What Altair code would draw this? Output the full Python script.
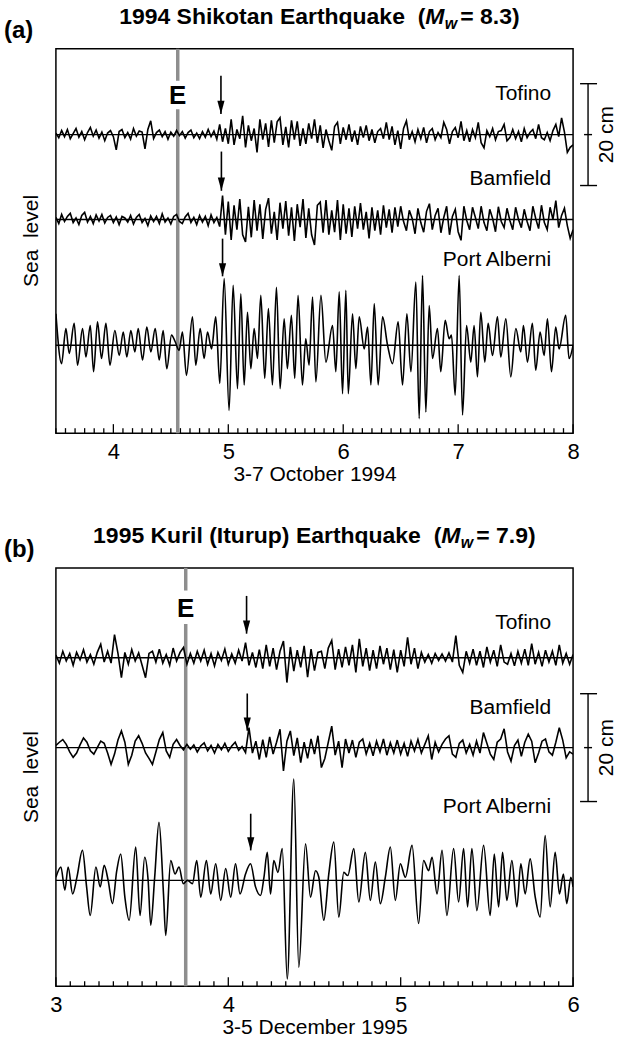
import altair as alt
import pandas as pd

FONT = "Liberation Sans"
W = 518

# ================= (a) 1994 Shikotan earthquake, 3-7 October 1994 (sea level, mm) =================
A_START, A_STEP = 3.5, 0.025
tofino_a = [
    3, -6, 8, -4, 10, -8, 2, 12, -5, 6, -10, 4, 14, -3, 9, -7, 5, -12, 3, 8,
    -4, -30, 6, 10, -6, 4, -9, 12, -3, 7, 5, -28, 10, 27, -8, 4, 9, -4, 6, -9,
    5, -3, 8, -2, 6, -7, 4, 9, -6, 3, -8, 6, -5, 10, -4, 7, -9, 20, -14, 12,
    -18, 30, -20, 10, -8, 37, -25, 18, -12, 12, -35, 30, -10, 22, -24, 28, -16, 25, 33, -20,
    15, -25, 28, -10, 26, -22, 12, -18, 22, -8, 30, -16, 18, -26, 10, -12, -31, 16, 24, -18,
    14, -10, 20, -14, 8, -20, 16, -6, 18, -12, 10, -16, 6, 12, -8, 24, -10, 16, -20, 8,
    -28, 12, 27, -10, 6, -14, 10, -8, 14, -16, 6, 12, -10, 4, -6, 24, 10, -18, 6, 14,
    -6, 26, -12, 8, -14, 10, -6, 24, -16, -26, 8, -4, 12, -10, 6, 8, 20, -12, -6, 10,
    -8, 6, -14, 12, -6, 4, 10, -8, 20, -6, -10, 4, -12, 8, 20, -4, 33, 5, -35, -25,
    -20,
]
bamfield_a = [
    4, -8, 10, -4, 6, 12, -6, 3, -10, 8, 14, -5, 6, -8, 9, -3, 10, -7, 4, 8,
    -6, 5, -10, 6, 3, -5, 8, -9, 4, 10, -6, 2, -12, 7, -4, 6, -8, 11, -5, 3,
    -9, 6, 10, -4, -8, 5, 12, -6, 4, -10, 8, -5, 6, -12, 9, -6, 4, -14, 47, -30,
    35, -40, 28, -20, 40, -30, -44, 25, -35, 38, -22, 30, -38, 20, 42, -28, 15, -40, 33, -18,
    36, -32, 24, -42, 30, -15, 40, -36, 22, -30, -50, 28, 34, -26, 38, -30, 18, -25, 38, -40,
    30, -28, 22, -34, 26, -18, 32, -20, 15, -37, 24, -22, 18, -30, 28, -16, 20, -26, 24, -14,
    26, -4, -22, 18, 2, -28, 22, -6, -25, 16, 31, -20, 8, 22, -26, 4, 26, -30, 6, 20,
    -24, -41, 26, -2, -20, 24, 4, -18, 26, -6, -22, 20, 2, -24, 25, -4, -16, 22, -2, -20,
    24, 0, -16, 20, -4, -22, 26, 2, -18, 28, -6, -20, 24, 0, 37, -16, 8, 22, -12, -37,
    -20,
]
alberni_a_day = [
    3.500, 3.549, 3.587, 3.616, 3.659, 3.688, 3.732, 3.761, 3.799, 3.828,
    3.862, 3.897, 3.935, 3.970, 4.013, 4.051, 4.086, 4.117, 4.152, 4.187,
    4.216, 4.254, 4.291, 4.326, 4.364, 4.399, 4.433, 4.465, 4.506, 4.538,
    4.572, 4.601, 4.636, 4.688, 4.717, 4.755, 4.790, 4.819, 4.854, 4.891,
    4.926, 4.964, 5.007, 5.042, 5.080, 5.109, 5.138, 5.167, 5.196, 5.225,
    5.254, 5.283, 5.317, 5.349, 5.384, 5.419, 5.451, 5.486, 5.514, 5.549,
    5.578, 5.607, 5.645, 5.674, 5.703, 5.733, 5.762, 5.806, 5.849, 5.907,
    5.936, 5.965, 5.994, 6.023, 6.044, 6.081, 6.110, 6.139, 6.183, 6.212,
    6.241, 6.270, 6.304, 6.342, 6.386, 6.429, 6.478, 6.516, 6.554, 6.589,
    6.632, 6.661, 6.690, 6.719, 6.748, 6.777, 6.820, 6.849, 6.887, 6.922,
    6.942, 6.974, 7.009, 7.038, 7.073, 7.110, 7.139, 7.168, 7.197, 7.232,
    7.261, 7.299, 7.342, 7.371, 7.415, 7.458, 7.502, 7.545, 7.568, 7.603,
    7.646, 7.675, 7.713, 7.748, 7.777, 7.812, 7.849, 7.878, 7.936, 7.965,
    8.000,
]
alberni_a = [
    62, -36, 33, -16, 43, -39, 33, -23, 39, -52,
    46, -26, 43, -39, 29, -20, 26, -23, 29, -13,
    33, -29, 36, -13, 33, -29, 29, -46, 20, 7,
    -10, 26, -59, 56, -39, 33, -26, 26, -7, 56,
    -75, 131, -128, 118, -85, 101, -78, 65, -46, 33,
    -26, 98, -65, 72, -78, 114, -85, 52, -46, 59,
    -65, 98, -78, 13, -39, 95, -72, 98, -33, 39,
    -52, 105, -95, 108, -95, 62, -46, 56, -7, 36,
    -78, 82, -78, 56, 0, -36, 46, -78, 62, -52,
    124, -144, 137, -131, 78, -26, 33, -52, 49, 13,
    20, -98, 137, -137, 39, -33, 39, -62, 65, -33,
    43, -20, 56, -23, 52, -62, 33, -13, 39, -33,
    43, -49, 26, -20, 52, -52, 36, -7, 59, -26,
    0,
]

# ================= (b) 1995 Kuril (Iturup) earthquake, 3-5 December 1995 (sea level, mm) =================
B_START, B_STEP = 3.0, 0.02
tofino_b = [
    5, -10, 12, -6, 8, -14, 10, -4, 15, -8, 6, -12, 10, 25, -8, 12, -10, 43, 8, -37,
    10, -12, 15, -6, 9, -14, -37, 8, 12, -8, 16, -10, 6, -14, 18, -6, 10, 19, -12, 8,
    -10, 12, -6, 14, -12, 8, -15, 10, -5, 16, -12, 7, -10, 14, -6, 28, -14, 10, -18, 15,
    -20, 24, -16, 18, -22, 12, 31, -46, 20, -25, 14, -18, 22, -36, 16, -24, 10, 12, -20, 18,
    32, -22, 16, -18, 20, -14, 24, -27, 35, -16, 18, -24, 14, -20, 22, -12, 18, -22, 15, -27,
    14, -16, 38, -12, 18, -20, 10, -8, 6, -10, 8, -5, 7, -6, 9, -8, 41, -14, -27, 12,
    -10, 16, -14, 12, -18, 20, -8, 14, -16, 24, -8, -12, 8, -15, 12, -10, 16, -14, 26, -12,
    10, -16, 14, -8, 12, -14, 24, -10, 8, -12, 6,
]
bamfield_b = [
    4, 10, 15, 6, -8, -18, -10, 5, 18, 10, -6, -12, 0, 12, 8, -10, -31, -12, 14, 31,
    10, -31, -14, 12, 22, 8, -10, -20, -31, -8, 15, 28, -6, -18, 6, 15, 4, -4, 6, -3,
    5, -8, 3, 9, -6, 4, -10, 6, -4, 8, -7, 3, 10, -5, 2, -9, 37, -10, 12, -22,
    15, -18, 20, -12, 10, 34, -43, 12, 31, -15, 18, -28, 10, -20, 16, -12, 22, -37, -20, 10,
    40, -14, 12, -37, 16, -10, 14, -18, 10, 16, -12, 8, -15, 12, -8, 16, -14, 9, -10, 14,
    -12, 8, -16, 12, -6, 15, -10, 6, 22, -22, 10, -8, 6, 16, 22, -12, -18, 8, 14, -10,
    6, -14, 12, -10, 28, 8, -12, -22, 10, 16, 35, -8, -25, 4, 14, -16, 10, 25, 12, -28,
    -10, 12, 16, -8, -14, 10, 37, 14, -19, -8, -12,
]
alberni_b_day = [
    3.000, 3.029, 3.052, 3.071, 3.097, 3.122, 3.154, 3.178, 3.199, 3.232,
    3.257, 3.280, 3.303, 3.328, 3.353, 3.376, 3.400, 3.425, 3.463, 3.488,
    3.515, 3.535, 3.550, 3.573, 3.598, 3.624, 3.637, 3.666, 3.691, 3.714,
    3.739, 3.763, 3.792, 3.817, 3.840, 3.873, 3.898, 3.927, 3.956, 3.985,
    4.014, 4.042, 4.068, 4.100, 4.129, 4.158, 4.187, 4.207, 4.226, 4.245,
    4.264, 4.288, 4.313, 4.342, 4.380, 4.409, 4.448, 4.477, 4.506, 4.525,
    4.554, 4.583, 4.612, 4.641, 4.670, 4.693, 4.728, 4.757, 4.795, 4.824,
    4.853, 4.882, 4.911, 4.940, 4.969, 4.998, 5.027, 5.066, 5.104, 5.133,
    5.162, 5.182, 5.211, 5.240, 5.268, 5.307, 5.336, 5.365, 5.388, 5.413,
    5.442, 5.481, 5.519, 5.543, 5.568, 5.591, 5.616, 5.645, 5.674, 5.697,
    5.722, 5.751, 5.780, 5.809, 5.838, 5.867, 5.896, 5.921, 5.944, 5.963,
    5.987, 6.000,
]
alberni_b = [
    6, 25, -18, 25, -25, 6, 56, -12, -65, 25,
    -12, 28, 0, -43, 18, 49, -31, -74, 62, -65,
    43, 0, -83, 6, 108, -25, -102, 37, 12, 25,
    -6, 0, -6, 37, -31, 37, -25, 31, -37, 22,
    -31, 31, -25, 12, 31, -12, -28, 6, 52, -25,
    37, 15, 59, -183, 188, -161, 68, -31, 18, 6,
    -74, 12, 71, -68, 15, 9, 59, -40, 52, -37,
    34, -43, 6, 62, -37, 31, 6, 65, -80, 37,
    18, 43, -25, 56, -65, 59, -40, 59, -49, 59,
    -56, 65, -65, 49, -49, 52, -37, 37, -49, 31,
    -25, 40, -30, -68, 83, -49, 52, -25, 12, -43,
    6, -12,
]

STATIONS = ["Tofino", "Bamfield", "Port Alberni"]

PANELS = [
    dict(tag="(a)", x0=3.5, x1=8.0, H=385, pxcm=5.1,
         base=[58.63, 41.96, 17.25], label_y=[66.67, 50.0, 34.1],
         event=4.56, e_gap=(63.6, 69.2), e_y=66.5,
         arrow_t=[4.936, 4.94, 4.95], arrow_top=[70.2, 55.3, 38.2], arrow_tip=[62.7, 47.6, 30.8],
         bar=0, ticks=[4, 5, 6, 7, 8], xtitle="3-7 October 1994",
         t1="1994 Shikotan Earthquake\u00a0 (", t2="= 8.3)", mx=370,
         uniform=[(A_START, A_STEP, tofino_a), (A_START, A_STEP, bamfield_a)],
         pa=(alberni_a_day, alberni_a)),
    dict(tag="(b)", x0=3.0, x1=6.0, H=419, pxcm=5.4,
         base=[60.93, 44.26, 19.63], label_y=[67.4, 51.7, 33.3],
         event=3.753, e_gap=(67.2, 73.4), e_y=70.2,
         arrow_t=[4.106, 4.11, 4.13], arrow_top=[72.4, 54.3, 32.0], arrow_tip=[65.4, 47.4, 25.2],
         bar=1, ticks=[3, 4, 5, 6], xtitle="3-5 December 1995",
         t1="1995 Kuril (Iturup) Earthquake\u00a0 (", t2="= 7.9)", mx=386,
         uniform=[(B_START, B_STEP, tofino_b), (B_START, B_STEP, bamfield_b)],
         pa=(alberni_b_day, alberni_b)),
]

ARROW = "M-0.6,-2.2L0.6,-2.2L0,0Z"


def panel(cfg):
    H = cfg["H"]
    ymax = H / cfg["pxcm"]
    xs = alt.Scale(domain=[cfg["x0"], cfg["x1"]], nice=False, zero=False)
    ys = alt.Scale(domain=[0, ymax], nice=False, zero=False)
    xax = alt.Axis(values=cfg["ticks"], format="d", ticks=False, domain=False, grid=False,
                   labelFont=FONT, labelFontSize=22, labelColor="black", labelPadding=8,
                   labelFlush=False, labelOverlap=False,
                   title=cfg["xtitle"], titleFont=FONT, titleFontSize=21,
                   titleFontWeight="normal", titleColor="black", titlePadding=1)

    def X():
        return alt.X("t:Q", scale=xs, axis=xax)

    def Y(f="y"):
        return alt.Y(f"{f}:Q", scale=ys, axis=None)

    one = alt.Chart(pd.DataFrame({"k": [0]}))
    layers = []

    # zero lines of the three gauges
    base_df = pd.DataFrame({"station": STATIONS, "y": cfg["base"]})
    layers.append(alt.Chart(base_df).mark_rule(color="black", strokeWidth=1.4).encode(
        y=Y(), x=alt.value(0), x2=alt.value(W)))

    # inward ticks every 2 hours
    n = int(round((cfg["x1"] - cfg["x0"]) * 12))
    tks = [cfg["x0"] + k / 12 for k in range(n + 1)]
    major = [v for v in tks if abs(v - round(v)) < 1e-6]
    minor = [v for v in tks if abs(v - round(v)) >= 1e-6]
    layers.append(alt.Chart(pd.DataFrame({"t": minor})).mark_rule(color="black", strokeWidth=1.3).encode(
        x=X(), y=alt.value(H), y2=alt.value(H - 5)))
    layers.append(alt.Chart(pd.DataFrame({"t": major})).mark_rule(color="black", strokeWidth=1.3).encode(
        x=X(), y=alt.value(H), y2=alt.value(H - 9)))

    # earthquake time line
    e_df = pd.DataFrame({"t": [cfg["event"]] * 2, "y": [0, cfg["e_gap"][1]], "y2": [cfg["e_gap"][0], ymax]})
    layers.append(alt.Chart(e_df).mark_rule(color="#8e8e8e", strokeWidth=3.5).encode(
        x=X(), y=Y(), y2=alt.Y2("y2:Q")))
    layers.append(alt.Chart(pd.DataFrame({"t": [cfg["event"]], "y": [cfg["e_y"]]})).mark_text(
        text="E", font=FONT, fontSize=26, fontWeight="bold", align="center", baseline="middle",
        color="black", dy=1).encode(x=X(), y=Y()))

    # sea level traces
    frames = []
    for name, (t0, dt, mm), b in zip(STATIONS[:2], cfg["uniform"], cfg["base"][:2]):
        frames.append(pd.DataFrame({"station": name,
                                    "t": [t0 + i * dt for i in range(len(mm))],
                                    "y": [b + v / 10 for v in mm]}))
    noisy = pd.concat(frames, ignore_index=True)
    layers.append(alt.Chart(noisy).mark_line(color="black", strokeWidth=1.6, clip=True).encode(
        x=X(), y=Y(), detail="station:N"))
    days, mm = cfg["pa"]
    pa_df = pd.DataFrame({"station": "Port Alberni", "t": days, "y": [cfg["base"][2] + v / 10 for v in mm]})
    layers.append(alt.Chart(pa_df).mark_line(color="black", strokeWidth=1.6, interpolate="monotone",
                                             clip=True).encode(x=X(), y=Y(), detail="station:N"))

    # arrival arrows
    ar = pd.DataFrame({"t": cfg["arrow_t"], "y": cfg["arrow_top"], "y2": cfg["arrow_tip"]})
    layers.append(alt.Chart(ar).mark_rule(color="black", strokeWidth=1.6).encode(
        x=X(), y=Y(), y2=alt.Y2("y2:Q")))
    layers.append(alt.Chart(ar).mark_point(shape=ARROW, size=144, filled=True, color="black",
                                           opacity=1, strokeWidth=0).encode(x=X(), y=Y("y2")))

    # station names
    lab = pd.DataFrame({"name": STATIONS, "y": cfg["label_y"]})
    layers.append(alt.Chart(lab).mark_text(font=FONT, fontSize=21, align="right", baseline="middle",
                                           color="black").encode(
        x=alt.value(W - 22), y=Y(), text="name:N"))

    # 20 cm scale bar
    bb = cfg["base"][cfg["bar"]]
    layers.append(alt.Chart(pd.DataFrame({"y": [bb - 10], "y2": [bb + 10]})).mark_rule(
        color="black", strokeWidth=1.4).encode(x=alt.value(W + 15), y=Y(), y2=alt.Y2("y2:Q")))
    layers.append(alt.Chart(pd.DataFrame({"y": [bb - 10, bb + 10]})).mark_rule(
        color="black", strokeWidth=1.4).encode(x=alt.value(W + 7), x2=alt.value(W + 24), y=Y()))
    layers.append(alt.Chart(pd.DataFrame({"y": [bb]})).mark_rule(
        color="black", strokeWidth=1.4).encode(x=alt.value(W + 11), x2=alt.value(W + 19), y=Y()))
    layers.append(alt.Chart(pd.DataFrame({"y": [bb]})).mark_text(
        text="20 cm", font=FONT, fontSize=21, angle=270, align="center", baseline="middle",
        color="black").encode(x=alt.value(W + 34), y=Y()))

    # side label and panel tag
    layers.append(one.mark_text(text="Sea\u00a0 level", font=FONT, fontSize=21, angle=270,
                                align="center", baseline="middle", color="black").encode(
        x=alt.value(-24), y=alt.value(H / 2)))
    layers.append(one.mark_text(text=cfg["tag"], font=FONT, fontSize=24, fontWeight="bold",
                                align="left", baseline="middle", color="black").encode(
        x=alt.value(-52), y=alt.value(-18)))

    # title with italic M and subscript w
    mx = cfg["mx"]
    layers.append(one.mark_text(text=cfg["t1"], font=FONT, fontSize=23, fontWeight="bold",
                                align="right", baseline="alphabetic", color="black").encode(
        x=alt.value(mx), y=alt.value(-25)))
    layers.append(one.mark_text(text="M", font=FONT, fontSize=23, fontWeight="bold", fontStyle="italic",
                                align="left", baseline="alphabetic", color="black").encode(
        x=alt.value(mx), y=alt.value(-25)))
    layers.append(one.mark_text(text="w", font=FONT, fontSize=16, fontWeight="bold", fontStyle="italic",
                                align="left", baseline="alphabetic", color="black").encode(
        x=alt.value(mx + 19.5), y=alt.value(-20)))
    layers.append(one.mark_text(text=cfg["t2"], font=FONT, fontSize=23, fontWeight="bold",
                                align="left", baseline="alphabetic", color="black").encode(
        x=alt.value(mx + 35), y=alt.value(-25)))

    return alt.layer(*layers).properties(width=W, height=H)


chart = alt.vconcat(panel(PANELS[0]), panel(PANELS[1]), spacing=39).properties(
    padding={"left": 3, "top": 4, "right": 0, "bottom": 0}
).configure_view(stroke="black", strokeWidth=1.5)

chart.save("out.html", embed_options={"renderer": "svg", "actions": False})
